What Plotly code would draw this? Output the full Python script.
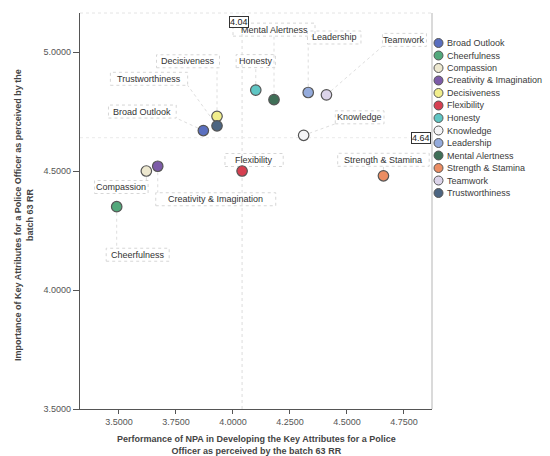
import plotly.graph_objects as go

# Key attributes of a police officer: NPA performance (x) vs importance (y)
attributes = [
    "Broad Outlook", "Cheerfulness", "Compassion", "Creativity & Imagination",
    "Decisiveness", "Flexibility", "Honesty", "Knowledge", "Leadership",
    "Mental Alertness", "Strength & Stamina", "Teamwork", "Trustworthiness",
]
performance = [3.87, 3.49, 3.62, 3.67, 3.93, 4.04, 4.10, 4.31, 4.33, 4.18, 4.66, 4.41, 3.93]
importance = [4.67, 4.35, 4.50, 4.52, 4.73, 4.50, 4.84, 4.65, 4.83, 4.80, 4.48, 4.82, 4.69]

# reference lines (means)
mean_performance = 4.04
mean_importance = 4.64

x_ticks = [3.50, 3.75, 4.00, 4.25, 4.50, 4.75]
y_ticks = [3.50, 4.00, 4.50, 5.00]

colors = [
    "#5a6fbf", "#52a87b", "#ede8cf", "#7c5ba8", "#f1ee8c", "#d63f50", "#5fc6c4",
    "#f4f4f6", "#94abdc", "#3f6f57", "#ec8d62", "#dcd4ea", "#4c6582",
]

# label placement: pixel offset of label centre from its point (right, up)
label_offsets = [
    (-61, 19), (21, -48), (-25, -16), (58, -33), (-29, 55), (12, 11), (0, 29),
    (56, 18), (26, 55), (0, 70), (0, 16), (78, 55), (-68, 47),
]

FONT = "Liberation Sans, Arial, sans-serif"
X_RANGE = [3.329, 4.873]
Y_RANGE = [3.5, 5.164]
FAINT = "#d6d6d6"

fig = go.Figure()

for name, x, y, c in zip(attributes, performance, importance, colors):
    fig.add_trace(go.Scatter(
        x=[x], y=[y], mode="markers", name=name, showlegend=False,
        marker=dict(size=10.5, color=c, line=dict(color="#555555", width=1.2)),
    ))

shapes = []
annotations = []

# mean reference lines
shapes.append(dict(type="line", xref="x", yref="paper", x0=mean_performance, x1=mean_performance,
                   y0=0, y1=1, line=dict(color="#dcdcdc", width=1, dash="dot"), layer="below"))
shapes.append(dict(type="line", xref="paper", yref="y", x0=0, x1=1, y0=mean_importance,
                   y1=mean_importance, line=dict(color="#ebebeb", width=1, dash="dot"), layer="below"))
annotations.append(dict(x=mean_performance, y=1, xref="x", yref="paper", yanchor="top",
                        xanchor="center", xshift=-3, yshift=-3, showarrow=False,
                        text=f"{mean_performance:.2f}", font=dict(family=FONT, size=9, color="#222"),
                        bordercolor="#333", borderwidth=1, borderpad=0, bgcolor="white"))
annotations.append(dict(x=1, y=mean_importance, xref="paper", yref="y", yanchor="middle",
                        xanchor="right", xshift=-1, showarrow=False,
                        text=f"{mean_importance:.2f}", font=dict(family=FONT, size=9, color="#222"),
                        bordercolor="#333", borderwidth=1, borderpad=0, bgcolor="white"))

# point labels with dotted boxes and leader lines
for name, x, y, (dx, dy) in zip(attributes, performance, importance, label_offsets):
    w = len(name) * 4.75 + 6
    h = 13
    x0, x1 = dx - w / 2, dx + w / 2
    y0, y1 = dy - h / 2, dy + h / 2
    shapes.append(dict(type="rect", xref="x", yref="y", xsizemode="pixel", ysizemode="pixel",
                       xanchor=x, yanchor=y, x0=x0, x1=x1, y0=y0, y1=y1,
                       line=dict(color=FAINT, width=1, dash="dot"), layer="below"))
    # leader from point edge to nearest box edge
    nx = min(max(0, x0), x1)
    ny = min(max(0, y0), y1)
    dist = (nx ** 2 + ny ** 2) ** 0.5
    if dist > 9:
        sx, sy = nx / dist * 6, ny / dist * 6
        shapes.append(dict(type="line", xref="x", yref="y", xsizemode="pixel", ysizemode="pixel",
                           xanchor=x, yanchor=y, x0=sx, y0=sy, x1=nx, y1=ny,
                           line=dict(color="#dedede", width=1, dash="dot"), layer="below"))
    annotations.append(dict(x=x, y=y, xref="x", yref="y", xshift=dx, yshift=dy,
                            showarrow=False, text=name, xanchor="center", yanchor="middle",
                            font=dict(family=FONT, size=9, color="#333333")))

# legend, drawn on the right of the plot
plot_top, plot_bottom = 13, 409
for i, (name, c) in enumerate(zip(attributes, colors)):
    ypx = 43 + 12.5 * i
    yp = (plot_bottom - ypx) / (plot_bottom - plot_top)
    shapes.append(dict(type="circle", xref="paper", yref="paper", xsizemode="pixel",
                       ysizemode="pixel", xanchor=1, yanchor=yp, x0=2, x1=11, y0=-4.5, y1=4.5,
                       fillcolor=c, line=dict(color="#555555", width=1)))
    annotations.append(dict(x=1, y=yp, xref="paper", yref="paper", xshift=13, showarrow=False,
                            text=name, xanchor="left", yanchor="middle",
                            font=dict(family=FONT, size=9, color="#3a3a3a")))

# frame: faint top and right edges
shapes.append(dict(type="line", xref="paper", yref="paper", x0=1, x1=1, y0=0, y1=1,
                   line=dict(color="#b5b5b5", width=1)))
shapes.append(dict(type="line", xref="paper", yref="paper", x0=0, x1=1, y0=1, y1=1,
                   line=dict(color="#e4e4e4", width=1, dash="dot")))

# axis titles
annotations.append(dict(x=0.5, y=-0.058, xref="paper", yref="paper", showarrow=False,
                        xanchor="center", yanchor="top",
                        text="<b>Performance of NPA in Developing the Key Attributes for a Police<br>"
                             "Officer as perceived by the batch 63 RR</b>",
                        font=dict(family=FONT, size=9, color="#444444")))
annotations.append(dict(x=-(80 - 24) / 352, y=0.49, xref="paper", yref="paper", showarrow=False,
                        xanchor="center", yanchor="middle", textangle=-90,
                        text="<b>Importance of Key Attributes for a Police Officer as perceived by the<br>"
                             "batch 63 RR</b>",
                        font=dict(family=FONT, size=9, color="#444444")))

fig.update_layout(
    width=550, height=456,
    margin=dict(l=80, r=118, t=13, b=47),
    paper_bgcolor="white", plot_bgcolor="white",
    showlegend=False,
    shapes=shapes, annotations=annotations,
    xaxis=dict(range=X_RANGE, tickvals=x_ticks, tickformat=".4f", showgrid=False, zeroline=False,
               showline=True, linecolor="#555555", linewidth=1.3, ticks="outside", ticklen=4,
               tickcolor="#555555", tickfont=dict(family=FONT, size=9, color="#555555")),
    yaxis=dict(range=Y_RANGE, tickvals=y_ticks, tickformat=".4f", showgrid=False, zeroline=False,
               showline=True, linecolor="#555555", linewidth=1.3, ticks="outside", ticklen=6,
               tickcolor="#555555", tickfont=dict(family=FONT, size=9, color="#555555")),
)

fig.write_html("out.html")
